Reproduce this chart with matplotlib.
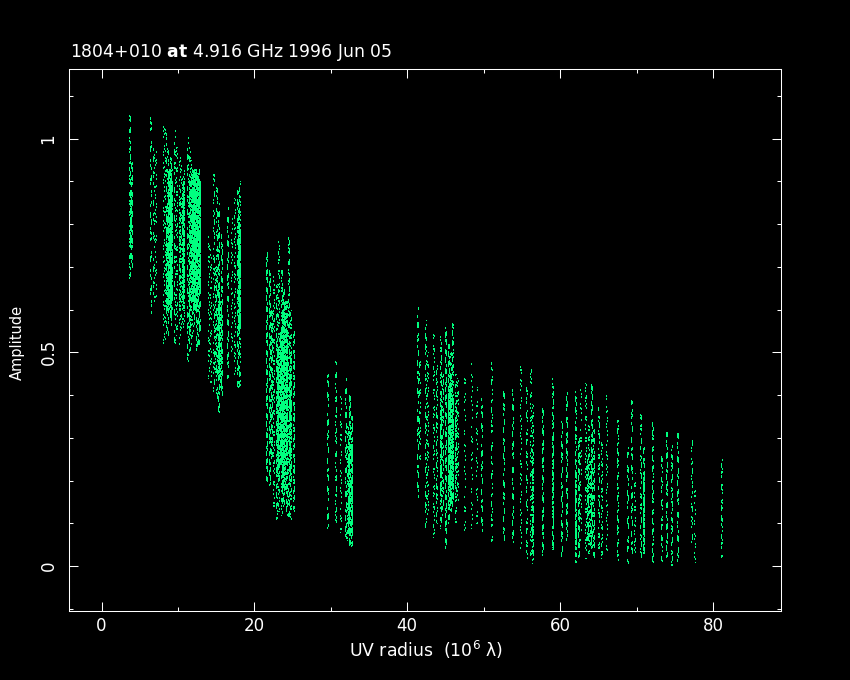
import matplotlib
matplotlib.use("Agg")
import matplotlib.pyplot as plt
from matplotlib.ticker import MultipleLocator
from matplotlib.transforms import ScaledTranslation

# visibility tracks: UV radius, amplitude range, fraction of the range lit
track_radius = [3.6, 3.8, 6.4, 6.7, 6.95, 8.0, 8.3, 8.6, 8.9, 9.1,
                9.5, 9.8, 10.1, 10.4, 10.7, 11.2, 11.45, 11.7, 12.0, 12.3,
                12.6, 12.8, 13.9, 14.2, 14.6, 15.0, 15.3, 15.6, 16.4, 16.9,
                17.3, 17.7, 18.0, 21.5, 21.9, 22.4, 22.8, 23.1, 23.5, 23.8,
                24.1, 24.4, 24.7, 25.0, 29.5, 30.5, 31.2, 31.8, 32.1, 32.4,
                32.7, 41.3, 41.5, 42.3, 42.6, 43.4, 43.7, 44.3, 44.6, 45.0,
                45.3, 45.6, 45.9, 46.2, 46.5, 47.4, 48.3, 49.0, 49.7, 51.0,
                52.5, 53.7, 54.7, 55.5, 56.0, 56.3, 57.6, 59.0, 60.1, 60.8,
                62.0, 62.3, 62.6, 63.3, 63.7, 64.0, 64.3, 65.0, 65.4, 66.0,
                67.4, 68.7, 69.3, 69.7, 70.5, 70.9, 72.0, 73.2, 73.9, 74.5,
                75.3, 77.1, 77.5, 81.0]
track_high = [1.06, 0.95, 1.05, 1.0, 0.97, 1.04, 1.03, 0.98, 0.96, 0.93,
              1.02, 0.98, 0.96, 0.94, 0.93, 1.005, 0.98, 0.95, 0.93, 0.93,
              0.93, 0.9, 0.78, 0.75, 0.92, 0.9, 0.85, 0.78, 0.84, 0.82,
              0.86, 0.88, 0.9, 0.74, 0.7, 0.68, 0.66, 0.76, 0.7, 0.65,
              0.62, 0.77, 0.6, 0.55, 0.46, 0.48, 0.4, 0.44, 0.33, 0.4,
              0.35, 0.61, 0.5, 0.575, 0.5, 0.545, 0.48, 0.545, 0.45, 0.56,
              0.52, 0.5, 0.568, 0.45, 0.44, 0.447, 0.475, 0.42, 0.395, 0.477,
              0.42, 0.416, 0.47, 0.42, 0.463, 0.38, 0.377, 0.44, 0.34, 0.41,
              0.41, 0.3, 0.42, 0.428, 0.33, 0.435, 0.32, 0.38, 0.3, 0.4,
              0.347, 0.278, 0.388, 0.218, 0.36, 0.28, 0.337, 0.264, 0.313, 0.288,
              0.318, 0.295, 0.185, 0.253]
track_low = [0.674, 0.7, 0.59, 0.6, 0.62, 0.52, 0.53, 0.54, 0.56, 0.6,
             0.52, 0.54, 0.52, 0.55, 0.56, 0.48, 0.5, 0.52, 0.55, 0.5,
             0.52, 0.55, 0.44, 0.42, 0.4, 0.38, 0.36, 0.4, 0.44, 0.5,
             0.45, 0.42, 0.42, 0.2, 0.19, 0.14, 0.11, 0.13, 0.12, 0.14,
             0.12, 0.11, 0.11, 0.13, 0.09, 0.1, 0.08, 0.06, 0.06, 0.05,
             0.045, 0.16, 0.25, 0.09, 0.12, 0.067, 0.1, 0.09, 0.12, 0.04,
             0.1, 0.13, 0.14, 0.1, 0.15, 0.08, 0.09, 0.1, 0.072, 0.056,
             0.056, 0.056, 0.033, 0.02, 0.02, 0.007, 0.026, 0.045, 0.018, 0.06,
             0.01, 0.02, 0.05, 0.02, 0.03, 0.04, 0.02, 0.04, 0.02, 0.037,
             0.014, 0.007, 0.03, 0.02, 0.018, 0.03, 0.01, 0.01, 0.02, 0.002,
             0.01, 0.056, 0.01, 0.02]
track_fill = [0.45, 0.45, 0.25, 0.25, 0.25, 0.3, 0.3, 0.35, 0.4, 0.4,
              0.3, 0.35, 0.35, 0.35, 0.4, 0.35, 0.35, 0.4, 0.4, 0.4,
              0.4, 0.35, 0.3, 0.3, 0.3, 0.35, 0.4, 0.4, 0.35, 0.3,
              0.35, 0.4, 0.4, 0.45, 0.45, 0.4, 0.45, 0.45, 0.5, 0.5,
              0.5, 0.45, 0.5, 0.55, 0.3, 0.35, 0.3, 0.35, 0.5, 0.6,
              0.55, 0.3, 0.3, 0.35, 0.35, 0.35, 0.4, 0.45, 0.4, 0.45,
              0.5, 0.55, 0.5, 0.45, 0.4, 0.22, 0.22, 0.25, 0.3, 0.3,
              0.32, 0.32, 0.3, 0.32, 0.35, 0.5, 0.42, 0.48, 0.35, 0.4,
              0.45, 0.5, 0.25, 0.4, 0.5, 0.45, 0.5, 0.35, 0.45, 0.3,
              0.42, 0.3, 0.3, 0.35, 0.35, 0.48, 0.45, 0.35, 0.4, 0.45,
              0.35, 0.3, 0.25, 0.4]

# the densest cores of the bands
core_radius = [3.7, 8.4, 8.7, 8.9, 9.1, 10.2, 10.5, 10.7, 11.45, 11.7, 11.95, 12.2, 12.45, 12.7,
               14.9, 15.3, 15.5, 17.8, 18.05, 22.2, 22.9, 23.1, 23.4, 23.65, 23.9, 24.15, 24.5, 24.7,
               32.2, 32.6, 44.3, 45.3, 45.6, 45.9, 46.2, 56.3, 59.0, 62.0, 63.5, 63.9, 70.9]
core_high = [0.88, 0.85, 0.93, 0.93, 0.9, 0.86, 0.88, 0.9, 0.9, 0.92, 0.93, 0.93, 0.92, 0.9,
             0.7, 0.66, 0.62, 0.82, 0.8, 0.6, 0.52, 0.5, 0.55, 0.6, 0.62, 0.55, 0.45, 0.5,
             0.3, 0.28, 0.4, 0.42, 0.45, 0.4, 0.38, 0.26, 0.3, 0.22, 0.26, 0.25, 0.22]
core_low = [0.76, 0.6, 0.6, 0.58, 0.62, 0.6, 0.62, 0.6, 0.55, 0.62, 0.6, 0.6, 0.62, 0.64,
            0.45, 0.44, 0.42, 0.56, 0.55, 0.25, 0.22, 0.2, 0.24, 0.18, 0.18, 0.25, 0.22, 0.2,
            0.08, 0.08, 0.16, 0.18, 0.15, 0.16, 0.18, 0.03, 0.04, 0.04, 0.06, 0.05, 0.03]
core_fill = [0.75, 0.5, 0.8, 0.9, 0.8, 0.5, 0.75, 0.8, 0.5, 0.8, 0.9, 0.9, 0.9, 0.8,
             0.5, 0.9, 0.8, 0.85, 0.85, 0.5, 0.7, 0.6, 0.8, 0.9, 0.9, 0.85, 0.7, 0.6,
             0.7, 0.7, 0.5, 0.7, 0.8, 0.7, 0.5, 0.45, 0.4, 0.6, 0.6, 0.6, 0.5]

x_major = [0, 20, 40, 60, 80]
y_major = [0, 0.5, 1]
y_major_labels = ['0', '0.5', '1']

title = r'1804+010 $\mathbf{at}$ 4.916 GHz 1996 Jun 05'
xlabel = 'UV radius  (10$^{6}$ λ)'
ylabel = 'Amplitude'

GREEN = '#00FF7F'
WHITE = '#FFFFFF'
GAP_WEIGHTS = [0.5, 2.6, 0.8, 1.7, 0.3, 3.4, 1.1, 0.6, 2.1, 0.4, 1.4, 4.2]


def dotted(fill, turn, dot=1.0):
    # uneven dash pattern with the wanted lit fraction, in units of the line width
    gap = dot * (1 - fill) / fill
    mean = sum(GAP_WEIGHTS) / len(GAP_WEIGHTS)
    pattern = []
    for k in range(len(GAP_WEIGHTS)):
        pattern += [dot, gap * GAP_WEIGHTS[(k + turn) % len(GAP_WEIGHTS)] / mean]
    return (turn * 0.7, pattern)


def draw_tracks(ax, radius, low, high, fill):
    # each track is about two pixels wide, so draw it again one pixel to the right
    step = ScaledTranslation(0.72 / 72, 0, ax.figure.dpi_scale_trans)
    for shift, trans in enumerate([ax.transData, ax.transData + step]):
        styles = [dotted(f * 0.6, i * 5 + shift * 7) for i, f in enumerate(fill)]
        ax.vlines(radius, low, high, colors=GREEN, linewidth=1.0, linestyles=styles,
                  antialiased=False, capstyle='butt', transform=trans)


plt.rcParams['font.family'] = ['DejaVu Sans']
plt.rcParams['mathtext.fontset'] = 'dejavusans'

fig = plt.figure(figsize=(8.5, 6.8), dpi=100, facecolor='black')
ax = fig.add_axes([68.5 / 850, 1 - 611 / 680, (781 - 68.5) / 850, (611 - 68.5) / 680],
                  facecolor='black')

draw_tracks(ax, track_radius, track_low, track_high, track_fill)
draw_tracks(ax, core_radius, core_low, core_high, core_fill)

ax.set_xlim(-4.32, 88.9)
ax.set_ylim(-0.105, 1.164)

ax.xaxis.set_major_locator(MultipleLocator(20))
ax.xaxis.set_minor_locator(MultipleLocator(10))
ax.yaxis.set_major_locator(MultipleLocator(0.5))
ax.yaxis.set_minor_locator(MultipleLocator(0.1))
ax.set_xticks(x_major)
ax.set_yticks(y_major)
ax.set_yticklabels(y_major_labels, rotation=90, va='center')

ax.tick_params(which='major', direction='in', length=6.5, width=0.75, color=WHITE,
               top=True, right=True, labelcolor=WHITE, labelsize=12)
ax.tick_params(which='minor', direction='in', length=3, width=0.75, color=WHITE,
               top=True, right=True)
ax.tick_params(axis='x', which='major', pad=4)
ax.tick_params(axis='y', which='major', pad=8)
for spine in ax.spines.values():
    spine.set_color(WHITE)
    spine.set_linewidth(0.75)

fig.text(70 / 850, 1 - 57 / 680, title, color=WHITE, fontsize=12.4, ha='left', va='baseline')
fig.text(426 / 850, 1 - 657 / 680, xlabel, color=WHITE, fontsize=12.4, ha='center', va='baseline')
fig.text(17 / 850, 1 - 342 / 680, ylabel, color=WHITE, fontsize=10.5, rotation=90,
         ha='center', va='center')

fig.savefig('out.png', dpi=100, facecolor='black')
plt.close('all')
